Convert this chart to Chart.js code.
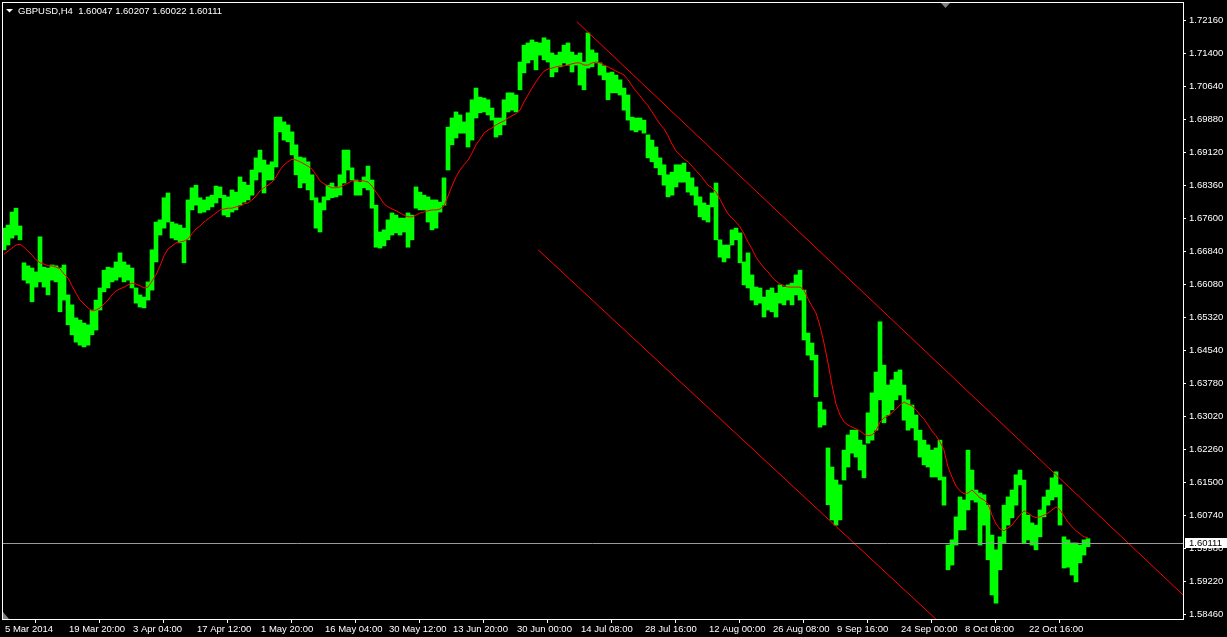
<!DOCTYPE html>
<html>
<head>
<meta charset="utf-8">
<script src="https://cdn.jsdelivr.net/npm/chart.js@4.4.1/dist/chart.umd.min.js"></script>
<style>
  html, body { margin: 0; padding: 0; background: #000; }
  #wrap { position: relative; width: 1227px; height: 637px; }
</style>
</head>
<body>
<div id="wrap"><canvas id="chart"></canvas></div>
<script>
// GBPUSD H4, one entry per 4 bars (high / low of the group)
const symbol = 'GBPUSD,H4';
const lastBar = [1.60047, 1.60207, 1.60022, 1.60111]; // open, high, low, close

const dateLabels = ['5 Mar 2014', '19 Mar 20:00', '3 Apr 04:00', '17 Apr 12:00', '1 May 20:00',
    '16 May 04:00', '30 May 12:00', '13 Jun 20:00', '30 Jun 00:00', '14 Jul 08:00', '28 Jul 16:00',
    '12 Aug 00:00', '26 Aug 08:00', '9 Sep 16:00', '24 Sep 00:00', '8 Oct 08:00', '22 Oct 16:00'];

const priceTicks = [1.72160, 1.71400, 1.70640, 1.69880, 1.69120, 1.68360, 1.67600, 1.66840, 1.66080,
    1.65320, 1.64540, 1.63780, 1.63020, 1.62260, 1.61500, 1.60740, 1.59980, 1.59220, 1.58460];

const highs = [
    1.6737, 1.6744, 1.6774, 1.6783, 1.6742, 1.6657, 1.6650, 1.6645, 1.6636, 1.6717, 1.6647, 1.6645, 1.6652, 1.6650, 1.6645, 1.6652,
    1.6583, 1.6560, 1.6530, 1.6525, 1.6518, 1.6514, 1.6548, 1.6571, 1.6599, 1.6640, 1.6647, 1.6645, 1.6659, 1.6680, 1.6659, 1.6652,
    1.6645, 1.6599, 1.6583, 1.6578, 1.6613, 1.6687, 1.6751, 1.6756, 1.6807, 1.6818, 1.6751, 1.6747, 1.6744, 1.6737, 1.6802, 1.6830,
    1.6836, 1.6807, 1.6802, 1.6809, 1.6813, 1.6834, 1.6832, 1.6813, 1.6809, 1.6825, 1.6820, 1.6855, 1.6843, 1.6836, 1.6871, 1.6899,
    1.6917, 1.6894, 1.6883, 1.6890, 1.6993, 1.6993, 1.6982, 1.6975, 1.6959, 1.6929, 1.6901, 1.6899, 1.6890, 1.6860, 1.6807, 1.6795,
    1.6809, 1.6836, 1.6841, 1.6832, 1.6860, 1.6917, 1.6917, 1.6876, 1.6848, 1.6843, 1.6855, 1.6880, 1.6848, 1.6790, 1.6728, 1.6733,
    1.6756, 1.6772, 1.6767, 1.6760, 1.6760, 1.6772, 1.6767, 1.6832, 1.6820, 1.6813, 1.6809, 1.6802, 1.6802, 1.6797, 1.6853, 1.6970,
    1.6991, 1.7005, 1.6998, 1.6982, 1.7003, 1.7033, 1.7060, 1.7039, 1.7037, 1.7033, 1.7014, 1.6991, 1.6991, 1.7033, 1.7049, 1.7049,
    1.7044, 1.7120, 1.7159, 1.7164, 1.7171, 1.7166, 1.7164, 1.7176, 1.7171, 1.7141, 1.7136, 1.7143, 1.7159, 1.7164, 1.7143, 1.7136,
    1.7141, 1.7120, 1.7187, 1.7148, 1.7141, 1.7118, 1.7111, 1.7095, 1.7097, 1.7090, 1.7079, 1.7060, 1.7044, 1.6993, 1.6991, 1.6991,
    1.6986, 1.6952, 1.6940, 1.6924, 1.6899, 1.6883, 1.6860, 1.6866, 1.6883, 1.6883, 1.6887, 1.6866, 1.6853, 1.6832, 1.6809, 1.6795,
    1.6790, 1.6818, 1.6841, 1.6710, 1.6698, 1.6698, 1.6733, 1.6737, 1.6726, 1.6659, 1.6680, 1.6629, 1.6601, 1.6599, 1.6578, 1.6594,
    1.6599, 1.6587, 1.6606, 1.6601, 1.6606, 1.6610, 1.6629, 1.6640, 1.6594, 1.6495, 1.6472, 1.6444, 1.6336, 1.6318, 1.6230, 1.6186,
    1.6156, 1.6145, 1.6225, 1.6260, 1.6271, 1.6271, 1.6248, 1.6237, 1.6311, 1.6357, 1.6405, 1.6521, 1.6421, 1.6375, 1.6387, 1.6405,
    1.6410, 1.6375, 1.6341, 1.6329, 1.6306, 1.6271, 1.6248, 1.6237, 1.6225, 1.6230, 1.6248, 1.6163, 1.6006, 1.6018, 1.6071, 1.6117,
    1.6110, 1.6225, 1.6179, 1.6133, 1.6126, 1.6122, 1.6098, 1.6029, 1.5995, 1.6025, 1.6098, 1.6117, 1.6133, 1.6168, 1.6179, 1.6156,
    1.6075, 1.6057, 1.6052, 1.6087, 1.6117, 1.6133, 1.6161, 1.6175, 1.6145, 1.6025, 1.6018, 1.6011, 1.6011, 1.6006, 1.6018, 1.60207
];

const lows = [
    1.6687, 1.6698, 1.6714, 1.6721, 1.6710, 1.6617, 1.6610, 1.6567, 1.6601, 1.6613, 1.6601, 1.6583, 1.6617, 1.6613, 1.6544, 1.6571,
    1.6514, 1.6491, 1.6474, 1.6467, 1.6463, 1.6467, 1.6491, 1.6502, 1.6548, 1.6590, 1.6599, 1.6613, 1.6617, 1.6624, 1.6613, 1.6617,
    1.6599, 1.6564, 1.6555, 1.6553, 1.6571, 1.6594, 1.6659, 1.6721, 1.6737, 1.6751, 1.6714, 1.6710, 1.6703, 1.6657, 1.6710, 1.6779,
    1.6790, 1.6772, 1.6774, 1.6779, 1.6786, 1.6795, 1.6807, 1.6767, 1.6763, 1.6774, 1.6779, 1.6790, 1.6797, 1.6802, 1.6813, 1.6848,
    1.6866, 1.6818, 1.6848, 1.6848, 1.6878, 1.6959, 1.6940, 1.6936, 1.6906, 1.6860, 1.6830, 1.6841, 1.6825, 1.6802, 1.6737, 1.6728,
    1.6779, 1.6802, 1.6807, 1.6809, 1.6813, 1.6841, 1.6871, 1.6848, 1.6813, 1.6813, 1.6830, 1.6825, 1.6783, 1.6693, 1.6691, 1.6696,
    1.6710, 1.6721, 1.6726, 1.6721, 1.6728, 1.6693, 1.6710, 1.6783, 1.6779, 1.6779, 1.6751, 1.6733, 1.6737, 1.6774, 1.6790, 1.6871,
    1.6929, 1.6945, 1.6956, 1.6956, 1.6924, 1.6940, 1.6991, 1.7003, 1.7005, 1.6998, 1.6986, 1.6947, 1.6952, 1.6975, 1.7005, 1.7009,
    1.7005, 1.7056, 1.7095, 1.7118, 1.7125, 1.7102, 1.7136, 1.7125, 1.7120, 1.7086, 1.7097, 1.7109, 1.7118, 1.7113, 1.7097, 1.7113,
    1.7067, 1.7056, 1.7106, 1.7109, 1.7118, 1.7090, 1.7079, 1.7033, 1.7049, 1.7049, 1.7044, 1.7009, 1.6986, 1.6963, 1.6959, 1.6963,
    1.6956, 1.6899, 1.6890, 1.6876, 1.6860, 1.6836, 1.6809, 1.6813, 1.6832, 1.6843, 1.6843, 1.6820, 1.6813, 1.6790, 1.6763, 1.6756,
    1.6751, 1.6786, 1.6710, 1.6670, 1.6659, 1.6668, 1.6698, 1.6710, 1.6657, 1.6606, 1.6599, 1.6571, 1.6560, 1.6564, 1.6532, 1.6548,
    1.6544, 1.6532, 1.6564, 1.6560, 1.6571, 1.6560, 1.6583, 1.6571, 1.6479, 1.6444, 1.6433, 1.6348, 1.6278, 1.6283, 1.6099, 1.6064,
    1.6052, 1.6064, 1.6156, 1.6186, 1.6218, 1.6209, 1.6179, 1.6161, 1.6241, 1.6248, 1.6271, 1.6341, 1.6288, 1.6306, 1.6318, 1.6341,
    1.6352, 1.6294, 1.6271, 1.6276, 1.6248, 1.6209, 1.6191, 1.6186, 1.6163, 1.6163, 1.6156, 1.6098, 1.5949, 1.5960, 1.6006, 1.6041,
    1.6041, 1.6087, 1.6110, 1.6105, 1.6006, 1.6052, 1.5972, 1.5891, 1.5872, 1.5949, 1.6011, 1.6052, 1.6069, 1.6098, 1.6145, 1.6011,
    1.6018, 1.6006, 1.5995, 1.6025, 1.6071, 1.6098, 1.6110, 1.6117, 1.6052, 1.5953, 1.5955, 1.5937, 1.5921, 1.5965, 1.5983, 1.60022
];

// moving average, same grouping
const maValues = [
    1.6677, 1.6684, 1.6691, 1.6698, 1.6700, 1.6693, 1.6684, 1.6675, 1.6664, 1.6657, 1.6654, 1.6650, 1.6650, 1.6647, 1.6643, 1.6631,
    1.6622, 1.6604, 1.6587, 1.6571, 1.6562, 1.6553, 1.6546, 1.6548, 1.6553, 1.6562, 1.6571, 1.6583, 1.6592, 1.6597, 1.6601, 1.6606,
    1.6610, 1.6608, 1.6604, 1.6599, 1.6601, 1.6615, 1.6629, 1.6650, 1.6673, 1.6689, 1.6696, 1.6703, 1.6705, 1.6707, 1.6712, 1.6724,
    1.6735, 1.6742, 1.6751, 1.6758, 1.6765, 1.6772, 1.6779, 1.6781, 1.6783, 1.6783, 1.6786, 1.6788, 1.6793, 1.6795, 1.6802, 1.6811,
    1.6823, 1.6830, 1.6836, 1.6843, 1.6855, 1.6871, 1.6883, 1.6890, 1.6896, 1.6894, 1.6890, 1.6885, 1.6880, 1.6873, 1.6860, 1.6846,
    1.6839, 1.6834, 1.6830, 1.6830, 1.6832, 1.6836, 1.6841, 1.6846, 1.6846, 1.6846, 1.6846, 1.6843, 1.6834, 1.6820, 1.6807, 1.6793,
    1.6786, 1.6781, 1.6777, 1.6772, 1.6767, 1.6763, 1.6763, 1.6767, 1.6772, 1.6774, 1.6777, 1.6779, 1.6779, 1.6781, 1.6788, 1.6811,
    1.6834, 1.6855, 1.6871, 1.6883, 1.6894, 1.6910, 1.6929, 1.6942, 1.6956, 1.6963, 1.6968, 1.6975, 1.6980, 1.6984, 1.6991, 1.6996,
    1.7001, 1.7009, 1.7028, 1.7044, 1.7060, 1.7074, 1.7088, 1.7099, 1.7104, 1.7106, 1.7109, 1.7111, 1.7111, 1.7113, 1.7116, 1.7118,
    1.7118, 1.7113, 1.7113, 1.7118, 1.7120, 1.7118, 1.7113, 1.7109, 1.7104, 1.7099, 1.7095, 1.7090, 1.7079, 1.7065, 1.7053, 1.7042,
    1.7030, 1.7019, 1.7005, 1.6991, 1.6977, 1.6966, 1.6950, 1.6931, 1.6915, 1.6906, 1.6896, 1.6890, 1.6880, 1.6869, 1.6860, 1.6848,
    1.6836, 1.6830, 1.6820, 1.6804, 1.6786, 1.6770, 1.6760, 1.6751, 1.6740, 1.6724, 1.6705, 1.6689, 1.6670, 1.6657, 1.6645, 1.6636,
    1.6624, 1.6615, 1.6608, 1.6604, 1.6601, 1.6601, 1.6601, 1.6601, 1.6594, 1.6574, 1.6557, 1.6541, 1.6511, 1.6472, 1.6426, 1.6375,
    1.6331, 1.6306, 1.6290, 1.6283, 1.6278, 1.6274, 1.6269, 1.6262, 1.6258, 1.6260, 1.6269, 1.6290, 1.6299, 1.6304, 1.6311, 1.6320,
    1.6329, 1.6336, 1.6331, 1.6327, 1.6318, 1.6306, 1.6297, 1.6283, 1.6269, 1.6258, 1.6244, 1.6225, 1.6186, 1.6163, 1.6142, 1.6131,
    1.6124, 1.6126, 1.6133, 1.6124, 1.6115, 1.6110, 1.6101, 1.6075, 1.6055, 1.6043, 1.6039, 1.6046, 1.6052, 1.6064, 1.6075, 1.6085,
    1.6080, 1.6073, 1.6069, 1.6071, 1.6075, 1.6080, 1.6087, 1.6094, 1.6087, 1.6073, 1.6059, 1.6048, 1.6039, 1.6032, 1.6025, 1.6023
];

// channel lines: [start, end] as (group index, price)
const channelTopX = [143.25, 294.75];
const channelTopY = [1.72128, 1.58911];
const channelBottomX = [133.5, 236.5];
const channelBottomY = [1.66872, 1.58051];

const FONT = '"Liberation Sans", Arial, sans-serif';
const FONT_SIZE = 9.5;
Chart.defaults.font.family = FONT;
Chart.defaults.font.size = FONT_SIZE;

const bars = highs.map((h, i) => ({ x: i, y: [lows[i], h] }));
const maPoints = maValues.map((v, i) => ({ x: i, y: v }));
const topLine = channelTopX.map((x, i) => ({ x, y: channelTopY[i] }));
const bottomLine = channelBottomX.map((x, i) => ({ x, y: channelBottomY[i] }));

const mt4Frame = {
    id: 'mt4Frame',
    afterDatasetsDraw(chart) {
        const { ctx, chartArea: a, scales: { y } } = chart;
        const yy = Math.round(y.getPixelForValue(lastBar[3])) + 0.5;
        ctx.save();
        ctx.strokeStyle = '#9a9a9a';
        ctx.lineWidth = 1;
        ctx.beginPath();
        ctx.moveTo(a.left, yy);
        ctx.lineTo(a.right, yy);
        ctx.stroke();
        ctx.restore();
    },
    afterDraw(chart) {
        const { ctx, chartArea: a, scales: { y } } = chart;
        ctx.save();
        ctx.strokeStyle = '#ffffff';
        ctx.lineWidth = 1;
        ctx.strokeRect(a.left + 0.5, a.top + 0.5, a.right - a.left, a.bottom - a.top);

        // header
        ctx.fillStyle = '#ffffff';
        ctx.beginPath();
        ctx.moveTo(6, 9);
        ctx.lineTo(13, 9);
        ctx.lineTo(9.5, 12.5);
        ctx.closePath();
        ctx.fill();
        ctx.font = FONT_SIZE + 'px ' + FONT;
        ctx.textBaseline = 'middle';
        ctx.textAlign = 'left';
        ctx.fillText(symbol + '  ' + lastBar.map(v => v.toFixed(5)).join(' '), 18, 11);

        // shift marker and corner marker
        ctx.fillStyle = '#808080';
        ctx.beginPath();
        ctx.moveTo(941, 3);
        ctx.lineTo(950, 3);
        ctx.lineTo(945.5, 8);
        ctx.closePath();
        ctx.fill();
        ctx.beginPath();
        ctx.moveTo(3, 612);
        ctx.lineTo(3, 619);
        ctx.lineTo(9, 619);
        ctx.closePath();
        ctx.fill();

        // bid price label
        const yy = Math.round(y.getPixelForValue(lastBar[3]));
        ctx.fillStyle = '#ffffff';
        ctx.fillRect(a.right + 2, yy - 5, 1227 - a.right - 2, 10);
        ctx.fillStyle = '#000000';
        ctx.fillText(lastBar[3].toFixed(5), a.right + 6, yy + 0.5);
        ctx.restore();
    }
};

new Chart(document.getElementById('chart'), {
    type: 'bar',
    data: {
        datasets: [
            { type: 'line', data: maPoints, borderColor: '#ff0000', borderWidth: 1, pointRadius: 0, tension: 0, order: 1 },
            { type: 'line', data: topLine, borderColor: '#ff0000', borderWidth: 1, pointRadius: 0, order: 2, clip: 0 },
            { type: 'line', data: bottomLine, borderColor: '#ff0000', borderWidth: 1, pointRadius: 0, order: 2, clip: 0 },
            { type: 'bar', data: bars, backgroundColor: '#00ff00', borderWidth: 0, barThickness: 4, order: 3 }
        ]
    },
    options: {
        responsive: true,
        maintainAspectRatio: false,
        animation: false,
        events: [],
        layout: { padding: { left: 2, top: 2, right: 0, bottom: 0 } },
        plugins: { legend: { display: false }, tooltip: { enabled: false } },
        scales: {
            x: {
                type: 'linear',
                min: -0.5,
                max: 294.75,
                offset: false,
                afterBuildTicks: s => { s.ticks = dateLabels.map((l, k) => ({ value: 16 * k - 0.25 })); },
                afterFit: s => { s.height = 18; s.paddingLeft = 0; s.paddingRight = 0; },
                border: { display: false },
                grid: { drawOnChartArea: false, drawTicks: true, tickLength: 4, color: '#ffffff' },
                ticks: {
                    color: '#ffffff',
                    align: 'start',
                    padding: 1,
                    labelOffset: 2,
                    maxRotation: 0,
                    autoSkip: false,
                    callback: (v, i) => dateLabels[i]
                }
            },
            y: {
                type: 'linear',
                position: 'right',
                min: 1.58355,
                max: 1.72585,
                afterBuildTicks: s => { s.ticks = priceTicks.map(v => ({ value: v })); },
                afterFit: s => { s.width = 44; s.paddingTop = 0; s.paddingBottom = 0; },
                border: { display: false },
                grid: { drawOnChartArea: false, drawTicks: true, tickLength: 3, color: '#ffffff' },
                ticks: {
                    color: '#ffffff',
                    padding: 3,
                    autoSkip: false,
                    callback: v => v.toFixed(5)
                }
            }
        }
    },
    plugins: [mt4Frame]
});
</script>
</body>
</html>
